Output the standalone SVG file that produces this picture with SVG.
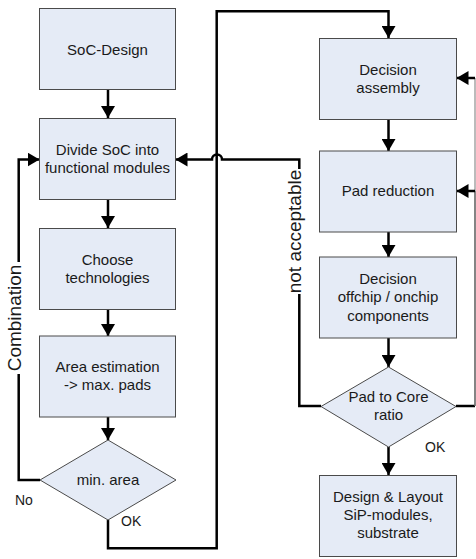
<svg xmlns="http://www.w3.org/2000/svg" width="476" height="559" viewBox="0 0 476 559">
<defs>
<style>
.box{fill:#e5ebf6;stroke:#4a4a4a;stroke-width:1}
.t{font-family:"Liberation Sans",Arial,sans-serif;font-size:15px;fill:#1a1a1a;text-anchor:middle}
.lbl{font-family:"Liberation Sans",Arial,sans-serif;font-size:14px;fill:#1a1a1a}
.big{font-family:"Liberation Sans",Arial,sans-serif;font-size:19px;fill:#1a1a1a;text-anchor:middle}
.c{fill:none;stroke:#000;stroke-width:2.5}
</style>
<marker id="ah" markerUnits="userSpaceOnUse" markerWidth="12" markerHeight="14" refX="12" refY="7" orient="auto">
<path d="M0,0 L12,7 L0,14 z" fill="#000"/>
</marker>
</defs>
<rect width="476" height="559" fill="#fff"/>

<g id="connectors">
<path class="c" d="M108,90 V118" marker-end="url(#ah)"/>
<path class="c" d="M108,199 V228" marker-end="url(#ah)"/>
<path class="c" d="M108,309 V336" marker-end="url(#ah)"/>
<path class="c" d="M108,417 V440" marker-end="url(#ah)"/>
<path class="c" d="M40,480 H18.7 V374"/>
<path class="c" d="M18.7,262 V159.5 H39.5" marker-end="url(#ah)"/>
<path class="c" d="M108,520 V548.3 H216.7 V11.2 H388.5 V38" marker-end="url(#ah)"/>
<path class="c" d="M299.3,169 V159.5 H222 A5,5 0 0 0 212,159.5 H175.5" marker-end="url(#ah)"/>
<path class="c" d="M299.3,294 V406 H321"/>
<path class="c" d="M388.5,120 V151" marker-end="url(#ah)"/>
<path class="c" d="M388.5,232 V257" marker-end="url(#ah)"/>
<path class="c" d="M388.5,338 V367" marker-end="url(#ah)"/>
<path class="c" d="M388.5,447 V475" marker-end="url(#ah)"/>
<path class="c" d="M456,406 H475"/>
<path d="M475,191 V406" fill="none" stroke="#666" stroke-width="1.6"/>
<path d="M475,78 V191" fill="none" stroke="#aaa" stroke-width="1.6"/>
<path class="c" d="M475,78 H456.5" marker-end="url(#ah)"/>
<path class="c" d="M475,191 H456.5" marker-end="url(#ah)"/>
<text class="big" transform="translate(20.5,318) rotate(-90)">Combination</text>
<text class="big" transform="translate(300.5,231.5) rotate(-90)">not acceptable</text>
<text class="lbl" x="15" y="505">No</text>
<text class="lbl" x="121" y="526">OK</text>
<text class="lbl" x="425" y="452">OK</text>
</g>

<g id="soc-design">
<rect class="box" x="39.5" y="8.5" width="136" height="81"/>
<text class="t" x="107.5" y="54.5">SoC-Design</text>
</g>
<g id="divide">
<rect class="box" x="39.5" y="118.5" width="136" height="81"/>
<text class="t" x="107.5" y="155">Divide SoC into</text>
<text class="t" x="107.5" y="173">functional modules</text>
</g>
<g id="choose">
<rect class="box" x="39.5" y="228.5" width="136" height="81"/>
<text class="t" x="107.5" y="264.5">Choose</text>
<text class="t" x="107.5" y="282.5">technologies</text>
</g>
<g id="area">
<rect class="box" x="39.5" y="336" width="136" height="81"/>
<text class="t" x="107.5" y="372">Area estimation</text>
<text class="t" x="107.5" y="390">-&gt; max. pads</text>
</g>
<g id="min-area">
<polygon class="box" points="108,440 176,480 108,520 40,480"/>
<text class="t" x="108" y="485">min. area</text>
</g>
<g id="decision-assembly">
<rect class="box" x="319.5" y="38.5" width="137" height="81"/>
<text class="t" x="388" y="75">Decision</text>
<text class="t" x="388" y="93">assembly</text>
</g>
<g id="pad-reduction">
<rect class="box" x="319.5" y="151" width="137" height="81"/>
<text class="t" x="388" y="196">Pad reduction</text>
</g>
<g id="decision-offchip">
<rect class="box" x="319.5" y="257" width="137" height="81"/>
<text class="t" x="388" y="283.5">Decision</text>
<text class="t" x="388" y="302">offchip / onchip</text>
<text class="t" x="388" y="320.5">components</text>
</g>
<g id="pad-core">
<polygon class="box" points="388.5,367 456,406.5 388.5,447 321,406.5"/>
<text class="t" x="388.5" y="402">Pad to Core</text>
<text class="t" x="388.5" y="420">ratio</text>
</g>
<g id="design-layout">
<rect class="box" x="319.5" y="475.5" width="137" height="81"/>
<text class="t" x="388" y="502">Design &amp; Layout</text>
<text class="t" x="388" y="520">SiP-modules,</text>
<text class="t" x="388" y="538">substrate</text>
</g>
</svg>
